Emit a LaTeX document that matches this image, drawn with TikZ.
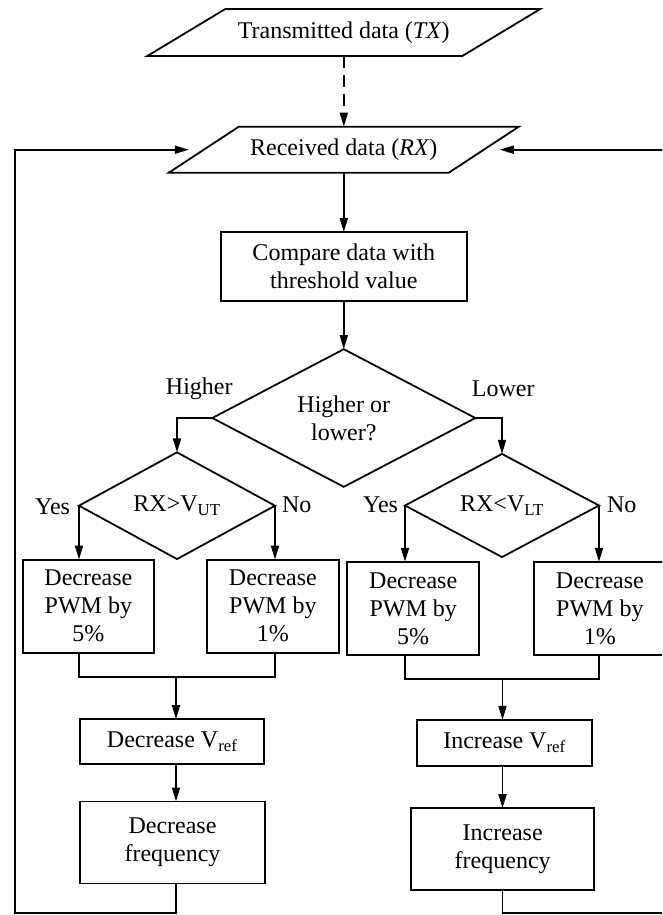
\documentclass[tikz,border=0pt]{standalone}
\usepackage{fontspec}
\setmainfont{Liberation Serif}
\usetikzlibrary{shapes.geometric,arrows.meta}
\begin{document}
\begin{tikzpicture}[x=1pt,y=-1pt,
  line width=1.8pt,
  every node/.style={font=\fontsize{24}{28}\selectfont, outer sep=0pt},
  box/.style={draw, rectangle, align=center, inner sep=0pt},
  iobox/.style={rectangle, align=center, inner sep=0pt},
  decision/.style={draw, diamond, align=center, inner sep=0pt},
  lbl/.style={inner sep=0pt},
  arr/.style={-{Triangle[length=14pt,width=8pt]}},
]
\useasboundingbox (0,0) rectangle (662,915);
\clip (0,0) rectangle (662,915);

% input / output parallelograms
\node[iobox, minimum width=315, minimum height=47] (tx) at (343.8,32.5)
  {Transmitted data (\textit{TX})};
\draw ([xshift=39pt]tx.north west) -- ([xshift=39pt]tx.north east)
  -- ([xshift=-39pt]tx.south east) -- ([xshift=-39pt]tx.south west) -- cycle;

\node[iobox, minimum width=280, minimum height=46] (rx) at (343.8,149.7)
  {Received data (\textit{RX})};
\draw ([xshift=35pt]rx.north west) -- ([xshift=35pt]rx.north east)
  -- ([xshift=-35pt]rx.south east) -- ([xshift=-35pt]rx.south west) -- cycle;

% comparison and decisions
\node[box, minimum width=246, minimum height=69] (cmp) at (343.8,266.5)
  {Compare data with\\threshold value};
\node[decision, minimum width=263, minimum height=123] (hl) at (343.8,418)
  {Higher or\\lower?};
\node[decision, minimum width=196, minimum height=85] (dl) at (177,505.7)
  {RX>V\textsubscript{UT}};
\node[decision, minimum width=194, minimum height=85] (dr) at (502,505.5)
  {RX<V\textsubscript{LT}};

% branch labels
\node[lbl] at ([xshift=-13pt,yshift=29pt]hl.west) {Higher};
\node[lbl] at ([xshift=28pt,yshift=29pt]hl.east) {Lower};
\node[lbl, anchor=east] at ([xshift=-9pt,yshift=-1pt]dl.west) {Yes};
\node[lbl, anchor=west] at ([xshift=7pt,yshift=1pt]dl.east) {No};
\node[lbl, anchor=east] at ([xshift=-7pt,yshift=1pt]dr.west) {Yes};
\node[lbl, anchor=west] at ([xshift=8pt,yshift=1pt]dr.east) {No};

% PWM adjustment boxes
\node[box, minimum width=131, minimum height=93] (a) at (88.4,606.1) {Decrease\\PWM by\\5\%};
\node[box, minimum width=132, minimum height=93] (b) at (272.9,606.1) {Decrease\\PWM by\\1\%};
\node[box, minimum width=132, minimum height=93] (c) at (413.2,608.3) {Decrease\\PWM by\\5\%};
\node[box, minimum width=132, minimum height=93] (d) at (599.9,608.3) {Decrease\\PWM by\\1\%};

% reference voltage and frequency boxes
\node[box, minimum width=184, minimum height=45] (decv) at (172.2,741.5) {Decrease V\textsubscript{ref}};
\node[box, minimum width=185, minimum height=82] (decf) at (172.5,842.5) {Decrease\\frequency};
\node[box, minimum width=175, minimum height=46] (incv) at (504.5,742.8) {Increase V\textsubscript{ref}};
\node[box, minimum width=183, minimum height=82] (incf) at (502.7,849.2) {Increase\\frequency};

% junctions and corners of the feedback loops
\coordinate (mL) at (176,677.3);
\coordinate (mR) at (502.5,679);
\coordinate (fbL) at (15,913.3);
\coordinate (fbR) at (690,913.3);

% connectors
\draw[arr, dash pattern=on 12pt off 7pt] (tx.south) -- (rx.north);
\draw[arr] (rx.south) -- (cmp.north);
\draw[arr] (cmp.south) -- (hl.north);
\draw[arr] (hl.west) -| (dl.north);
\draw[arr] (hl.east) -| (dr.north);
\draw[arr] (dl.west) -- (dl.west |- a.north);
\draw[arr] (dl.east) -- (dl.east |- b.north);
\draw[arr] (dr.west) -- (dr.west |- c.north);
\draw[arr] (dr.east) -- (dr.east |- d.north);

\draw (a.south -| dl.west) |- (mL) -| (b.south -| dl.east);
\draw (c.south -| dr.west) |- (mR) -| (d.south -| dr.east);

\draw[arr] (mL) -- (mL |- decv.north);
\draw[arr] (decv.south -| mL) -- (decf.north -| mL);
\draw[arr] (mR) -- (mR |- incv.north);
\draw[arr] (incv.south -| mR) -- (incf.north -| mR);

% feedback to the received data
\draw[arr] (decf.south -| mL) |- (fbL) |- ([xshift=-15pt]rx.west);
\draw[arr] (incf.south -| mR) |- (fbR) |- ([xshift=16pt]rx.east);
\end{tikzpicture}
\end{document}
